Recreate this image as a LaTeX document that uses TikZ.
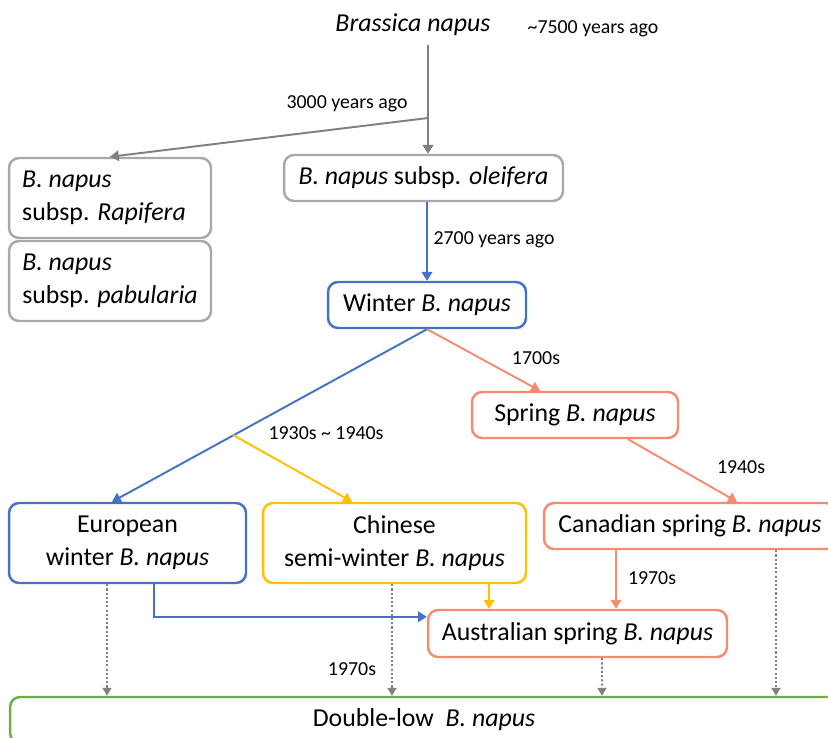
\documentclass[tikz,border=0pt]{standalone}
\usepackage{fontspec}
\setmainfont{Carlito}
\usetikzlibrary{arrows.meta,calc}

\definecolor{grayline}{RGB}{128,128,128}
\definecolor{graybox}{RGB}{168,168,168}
\definecolor{blueline}{RGB}{68,114,196}
\definecolor{salmon}{RGB}{246,139,112}
\definecolor{gold}{RGB}{255,192,0}
\definecolor{leaf}{RGB}{112,173,71}

\tikzset{
  box/.style={draw, rounded corners=0.2cm, line width=1.4pt, fill=white, align=center,
    inner sep=0pt, font=\fontsize{14.7}{18.7}\selectfont},
  lbl/.style={font=\fontsize{11.3}{13}\selectfont, inner sep=1pt},
  arr/.style={-{Triangle[length=5pt,width=6pt]}, line width=1.1pt},
  dots/.style={-{Triangle[length=4.5pt,width=5pt]}, grayline, line width=0.9pt,
    dash pattern=on 1.2pt off 1.2pt}
}

\begin{document}
\begin{tikzpicture}[x=0.02cm,y=-0.02cm]
    \useasboundingbox (0,0) rectangle (828,737);
    \clip (0,0) rectangle (828,737);

    \node[font=\fontsize{14.7}{18.7}\selectfont\itshape] (bn) at (413,25) {Brassica napus};
    \node[lbl] (t7500) at (593,29) {\textasciitilde7500 years ago};

    \node[box,draw=graybox,minimum width=5.58cm,minimum height=0.92cm] (ole) at (423.5,178) {\textit{B. napus} subsp. \textit{oleifera}};
    \node[box,draw=graybox,minimum width=4.04cm,minimum height=1.6cm,align=left] (rap) at (110,198) {\textit{B. napus}\\subsp. \textit{Rapifera}\hspace*{0.24cm}};
    \node[box,draw=graybox,minimum width=4.04cm,minimum height=1.6cm,align=left] (pab) at (110,281) {\textit{B. napus}\\subsp. \textit{pabularia}};
    \node[box,draw=blueline,minimum width=3.96cm,minimum height=0.92cm] (win) at (427,305) {Winter \textit{B. napus}};
    \node[box,draw=salmon,minimum width=4.12cm,minimum height=0.92cm] (spr) at (575,415) {Spring \textit{B. napus}};
    \node[box,draw=blueline,minimum width=4.74cm,minimum height=1.6cm] (eur) at (127.5,543) {European\\winter \textit{B. napus}};
    \node[box,draw=gold,minimum width=5.26cm,minimum height=1.6cm] (chi) at (394.5,543) {Chinese\\semi-winter \textit{B. napus}};
    \node[box,draw=salmon,minimum width=5.84cm,minimum height=0.92cm] (can) at (690,526) {Canadian spring \textit{B. napus}};
    \node[box,draw=salmon,minimum width=5.98cm,minimum height=0.94cm] (aus) at (577.5,633.5) {Australian spring \textit{B. napus}};
    \node[box,draw=leaf,minimum width=16.56cm,minimum height=0.92cm] (dbl) at (424,720) {Double-low\ \ \textit{B. napus}};

    \node[lbl] (t3000) at (347,104) {3000 years ago};
    \node[lbl] (t2700) at (494,240) {2700 years ago};
    \node[lbl] (t1700) at (536,358) {1700s};
    \node[lbl] (t1930) at (326,433) {1930s \textasciitilde\ 1940s};
    \node[lbl] (t1940) at (741,467) {1940s};
    \node[lbl] (t1970a) at (652,578) {1970s};
    \node[lbl] (t1970b) at (352,669) {1970s};

    \coordinate (top) at (428,45);
    \coordinate (split) at (428,118);
    \coordinate (fork) at (233,435);

    % origin of the crop
    \draw[grayline,line width=1.1pt] (top) -- (split);
    \draw[arr,grayline] (split) -- (ole.north -| split);
    \draw[arr,grayline] (split) -- (rap.north);

    % winter and spring lines
    \draw[arr,blueline] (ole.south -| win) -- (win.north);
    \draw[arr,blueline] (win.south) -- ($(eur.north)+(-15.5,0)$);
    \draw[arr,salmon] (win.south) -- ($(spr.north)+(-35,0)$);
    \draw[arr,gold] (fork) -- ($(chi.north)+(-42.5,0)$);
    \draw[arr,salmon] ($(spr.south)+(53,0)$) -- ($(can.north)+(47,0)$);

    % towards Australia
    \draw[arr,blueline] ($(eur.south)+(26.5,0)$) |- ($(aus.north west)+(0,8)$);
    \draw[arr,gold] ($(chi.south)+(94.5,0)$) -- ($(aus.north)+(-88.5,0)$);
    \draw[arr,salmon] ($(can.south)+(-74,0)$) -- ($(aus.north)+(38.5,0)$);

    % double-low breeding
    \draw[dots] ($(eur.south)+(-20.5,0)$) -- ($(dbl.north)+(-317,0)$);
    \draw[dots] ($(chi.south)+(-2.5,0)$) -- ($(dbl.north)+(-32,0)$);
    \draw[dots] ($(aus.south)+(24.5,0)$) -- ($(dbl.north)+(178,0)$);
    \draw[dots] ($(can.south)+(86,0)$) -- ($(dbl.north)+(352,0)$);
\end{tikzpicture}
\end{document}
